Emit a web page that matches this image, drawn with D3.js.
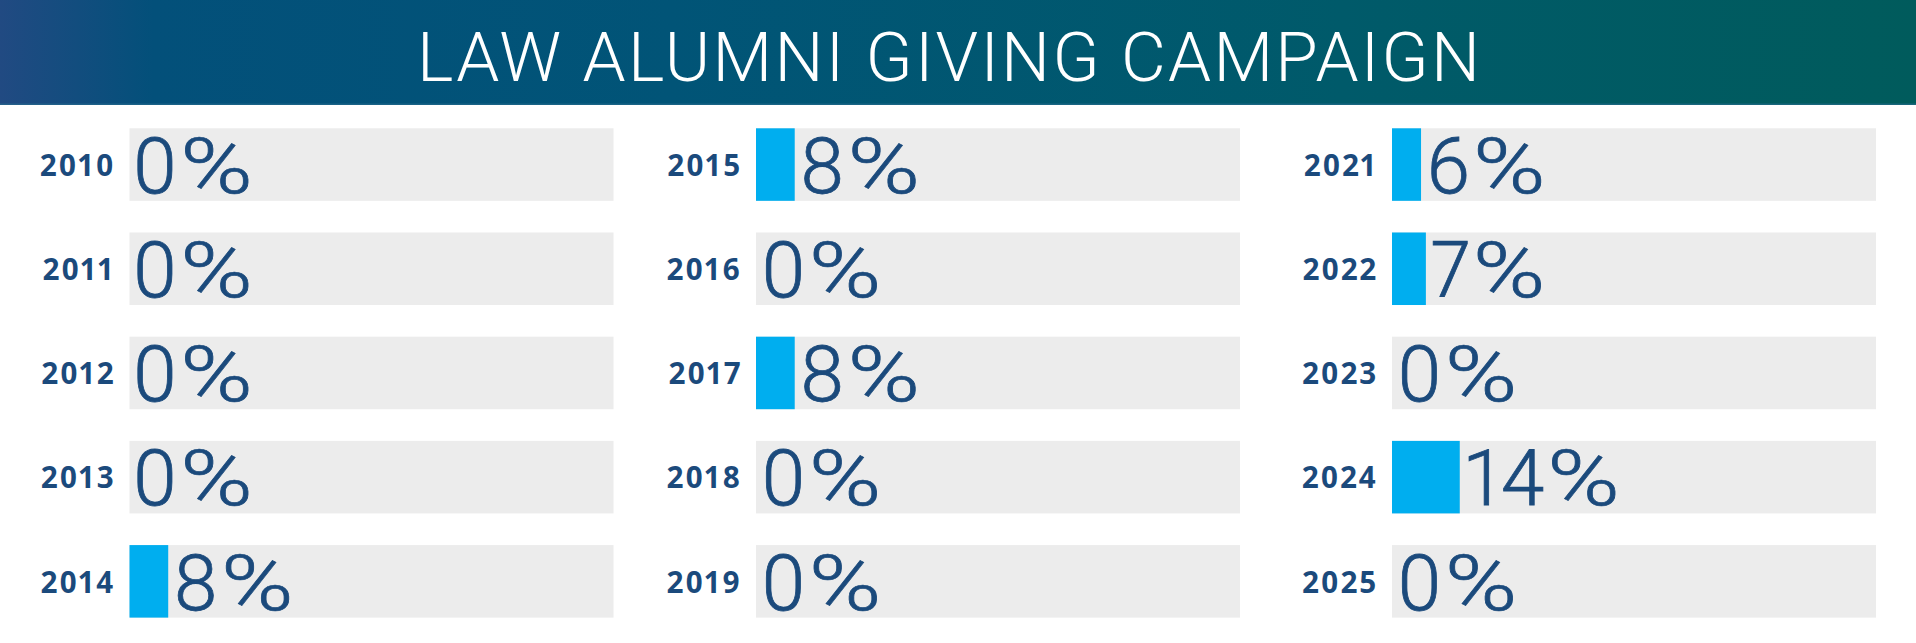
<!DOCTYPE html>
<html>
<head>
<meta charset="utf-8">
<script src="https://cdn.jsdelivr.net/npm/d3@7"></script>
<style>
  html, body { margin: 0; padding: 0; background: #ffffff; }
  svg { display: block; }
  .num { font-variant-numeric: proportional-nums; font-feature-settings: "pnum" 1; }
</style>
</head>
<body>
<svg id="chart" width="1916" height="643"></svg>
<script>
// ---- data ----
const title = "LAW ALUMNI GIVING CAMPAIGN";
const years = ["2010","2011","2012","2013","2014",
               "2015","2016","2017","2018","2019",
               "2021","2022","2023","2024","2025"];
const values = [0, 0, 0, 0, 8,
                8, 0, 8, 0, 0,
                6, 7, 0, 14, 0];
const maxValue = 100;

// ---- layout ----
const W = 1916, H = 643;
const headerH = 105;
const colX = [129.5, 756, 1392];
const barW = 484;
const rowsPerCol = 5;
const textColor = "#1b4a7c";

const svg = d3.select("#chart");
const defs = svg.append("defs");
const grad = defs.append("linearGradient").attr("id", "hdr").attr("x1", "0%").attr("x2", "100%");
[[0, "#214a82"], [0.08, "#03507a"], [0.35, "#015477"], [0.7, "#005a6a"], [1, "#005b5c"]]
  .forEach(([o, c]) => grad.append("stop").attr("offset", o).attr("stop-color", c));

svg.append("rect").attr("x", 0).attr("y", 0).attr("width", W).attr("height", headerH)
  .attr("fill", "url(#hdr)");
svg.append("rect").attr("x", 0).attr("y", headerH - 1.5).attr("width", W).attr("height", 1.5)
  .attr("fill", "#2a6e90").attr("opacity", 0.6);

svg.append("text")
  .attr("x", 417).attr("y", 81)
  .attr("textLength", 1063).attr("lengthAdjust", "spacing")
  .attr("font-family", "Roboto, 'Open Sans', sans-serif")
  .attr("font-weight", 300)
  .attr("font-size", 69)
  .attr("fill", "#ffffff")
  .text(title);

const y = d3.scaleBand().domain(d3.range(rowsPerCol))
  .range([128.3, 617.6]).paddingInner(0.304).paddingOuter(0);
const x = d3.scaleLinear().domain([0, maxValue]).range([0, barW]);

const data = years.map((yr, i) => ({
  year: yr, value: values[i],
  col: Math.floor(i / rowsPerCol), row: i % rowsPerCol
}));

const g = svg.selectAll("g.item").data(data).join("g")
  .attr("class", "item")
  .attr("transform", d => `translate(${colX[d.col]},${y(d.row)})`);

g.append("rect")
  .attr("x", 0).attr("y", 0)
  .attr("width", x(maxValue)).attr("height", y.bandwidth())
  .attr("fill", "#ececec");

g.append("rect")
  .attr("x", 0).attr("y", 0)
  .attr("width", d => x(d.value)).attr("height", y.bandwidth())
  .attr("fill", "#00aeef");

g.append("text")
  .attr("class", "num")
  .attr("x", -14).attr("y", 47.5)
  .attr("text-anchor", "end")
  .attr("font-family", "'Open Sans', sans-serif")
  .attr("font-weight", 700)
  .attr("font-size", 29.5)
  .attr("letter-spacing", "2px")
  .attr("fill", textColor)
  .text(d => d.year);

const valFont = "Roboto, 'Open Sans', sans-serif";
g.each(function(d) {
  const sel = d3.select(this);
  const x0 = x(d.value) + (d.value > 0 ? 5 : (d.col === 0 ? 3 : 5));
  const num = sel.append("text")
    .attr("class", "num")
    .attr("x", x0).attr("y", 64.6)
    .attr("font-family", valFont)
    .attr("font-weight", 300)
    .attr("font-size", 78)
    .attr("letter-spacing", "2px")
    .attr("stroke", textColor).attr("stroke-width", 0.8)
    .attr("fill", textColor)
    .text(String(d.value));
  const len = num.node().getComputedTextLength();
  sel.append("text")
    .attr("transform", `translate(${x0 + len + 1},64.6) scale(1.26,1)`)
    .attr("font-family", valFont)
    .attr("font-weight", 300)
    .attr("font-size", 78)
    .attr("stroke", textColor).attr("stroke-width", 0.7)
    .attr("fill", textColor)
    .text("%");
});
</script>
</body>
</html>
